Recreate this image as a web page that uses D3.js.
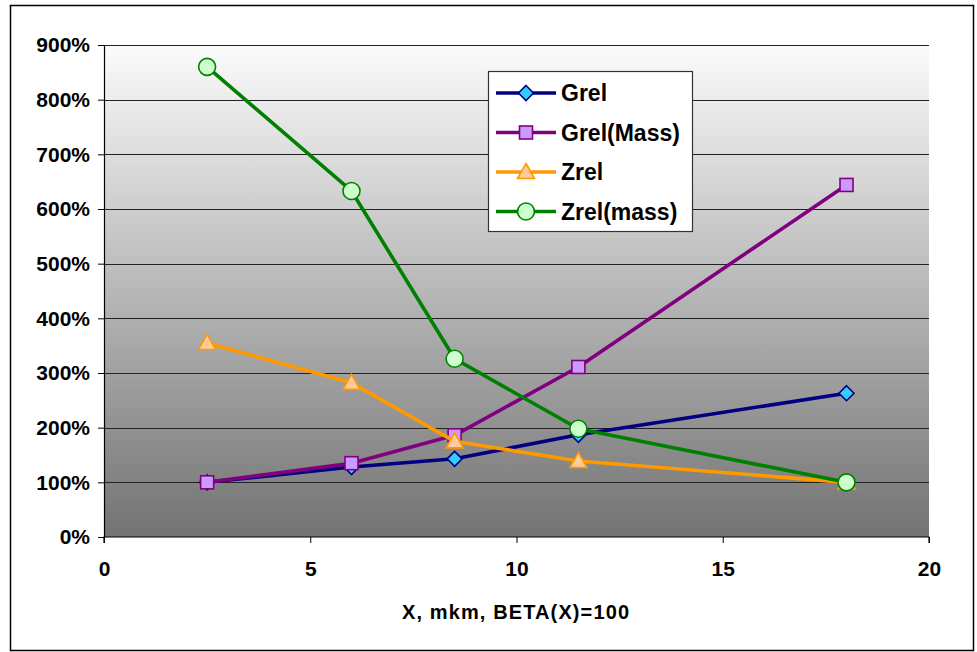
<!DOCTYPE html>
<html>
<head>
<meta charset="utf-8">
<script src="https://cdn.jsdelivr.net/npm/d3@7"></script>
<style>
  body { margin: 0; background: #fff; }
  text { font-family: Arial, "Liberation Sans", sans-serif; font-weight: bold; }
</style>
</head>
<body>
<svg id="chart" width="977" height="652"></svg>
<script>
// chart data
var xValues = [2.5, 6, 8.5, 11.5, 18];
var grel = [100, 128, 143, 187, 263];
var grelMass = [100, 135, 186, 311, 644];
var zrel = [355, 282, 175, 139, 100];
var zrelMass = [860, 633, 326, 198, 100];
var seriesNames = ["Grel", "Grel(Mass)", "Zrel", "Zrel(mass)"];
var yTicks = [0, 100, 200, 300, 400, 500, 600, 700, 800, 900];
var xTicks = [0, 5, 10, 15, 20];

var series = [
  { name: seriesNames[0], values: grel, stroke: "#000080", fill: "#33ccff", shape: "diamond" },
  { name: seriesNames[1], values: grelMass, stroke: "#800080", fill: "#cc99ff", shape: "square" },
  { name: seriesNames[2], values: zrel, stroke: "#ff9900", fill: "#ffcc99", shape: "triangle" },
  { name: seriesNames[3], values: zrelMass, stroke: "#008000", fill: "#ccffcc", shape: "circle" }
];

var svg = d3.select("#chart");
var pLeft = 104, pRight = 929, pTop = 45, pBottom = 537;

var x = d3.scaleLinear().domain([0, 20]).range([pLeft, pRight]);
var y = d3.scaleLinear().domain([0, 900]).range([pBottom, pTop]);

// outer frame
svg.append("rect").attr("x", 10.5).attr("y", 5.5).attr("width", 963).attr("height", 645)
  .attr("fill", "#fff").attr("stroke", "#000").attr("stroke-width", 1.5);

// plot background gradient
var grad = svg.append("defs").append("linearGradient").attr("id", "bg")
  .attr("x1", 0).attr("y1", 0).attr("x2", 0).attr("y2", 1);
grad.append("stop").attr("offset", "0%").attr("stop-color", "#fbfbfb");
grad.append("stop").attr("offset", "100%").attr("stop-color", "#737373");
svg.append("rect").attr("x", pLeft).attr("y", pTop).attr("width", pRight - pLeft).attr("height", pBottom - pTop)
  .attr("fill", "url(#bg)");

// gridlines
svg.append("g").selectAll("line").data(yTicks.slice(1)).enter()
  .append("line")
  .attr("x1", pLeft).attr("x2", pRight)
  .attr("y1", function(d){ return Math.round(y(d)) + 0.5; })
  .attr("y2", function(d){ return Math.round(y(d)) + 0.5; })
  .attr("stroke", "#222").attr("stroke-width", 1);

// axes
var yAxis = d3.axisLeft(y).tickValues(yTicks).tickSize(6).tickPadding(8)
  .tickFormat(function(d){ return d + "%"; });
var gy = svg.append("g").attr("transform", "translate(" + pLeft + ",0)").call(yAxis);
var xAxis = d3.axisBottom(x).tickValues(xTicks).tickSize(6).tickPadding(18);
var gx = svg.append("g").attr("transform", "translate(0," + pBottom + ")").call(xAxis);
[gy, gx].forEach(function(g){
  g.attr("font-size", 21).attr("font-family", "Arial, 'Liberation Sans', sans-serif");
  g.select(".domain").attr("stroke", "#000").attr("stroke-width", 1.2);
  g.selectAll(".tick line").attr("stroke", "#000");
  g.selectAll("text").attr("fill", "#000").style("font-weight", "bold");
});
gx.select(".domain").attr("d", "M" + pLeft + ",6V0H" + pRight + "V6");

svg.append("text").attr("x", 402).attr("y", 619)
  .attr("font-size", 20).attr("textLength", 227).attr("lengthAdjust", "spacing")
  .text("X, mkm, BETA(X)=100");

// markers
function drawMarker(g, shape, cx, cy, s) {
  if (shape === "diamond") {
    g.append("path").attr("d", "M" + cx + "," + (cy - 7.5) + "L" + (cx + 7.5) + "," + cy + "L" + cx + "," + (cy + 7.5) + "L" + (cx - 7.5) + "," + cy + "Z")
      .attr("fill", s.fill).attr("stroke", s.stroke).attr("stroke-width", 1.6);
  } else if (shape === "square") {
    g.append("rect").attr("x", cx - 6.5).attr("y", cy - 6.5).attr("width", 13).attr("height", 13)
      .attr("fill", s.fill).attr("stroke", s.stroke).attr("stroke-width", 1.6);
  } else if (shape === "triangle") {
    g.append("path").attr("d", "M" + cx + "," + (cy - 8.5) + "L" + (cx + 8.5) + "," + (cy + 6.5) + "L" + (cx - 8.5) + "," + (cy + 6.5) + "Z")
      .attr("fill", s.fill).attr("stroke", s.stroke).attr("stroke-width", 1.6);
  } else {
    g.append("circle").attr("cx", cx).attr("cy", cy).attr("r", 8.5)
      .attr("fill", s.fill).attr("stroke", s.stroke).attr("stroke-width", 1.6);
  }
}

var line = d3.line().x(function(d){ return x(d[0]); }).y(function(d){ return y(d[1]); });

series.forEach(function(s){
  var pts = xValues.map(function(v, i){ return [v, s.values[i]]; });
  var g = svg.append("g");
  g.append("path").attr("d", line(pts)).attr("fill", "none")
    .attr("stroke", s.stroke).attr("stroke-width", 3.6).attr("stroke-linejoin", "round");
  pts.forEach(function(p){ drawMarker(g, s.shape, x(p[0]), y(p[1]), s); });
});

// legend
var lg = svg.append("g");
lg.append("rect").attr("x", 488.5).attr("y", 71.5).attr("width", 204).attr("height", 160)
  .attr("fill", "#fff").attr("stroke", "#333").attr("stroke-width", 1.2);
series.forEach(function(s, i){
  var ly = 93 + i * 39.5;
  lg.append("line").attr("x1", 496).attr("x2", 556).attr("y1", ly).attr("y2", ly)
    .attr("stroke", s.stroke).attr("stroke-width", 3.6);
  drawMarker(lg, s.shape, 526, ly, s);
  lg.append("text").attr("x", 561).attr("y", ly + 8).attr("font-size", 23).text(s.name);
});
</script>
</body>
</html>
